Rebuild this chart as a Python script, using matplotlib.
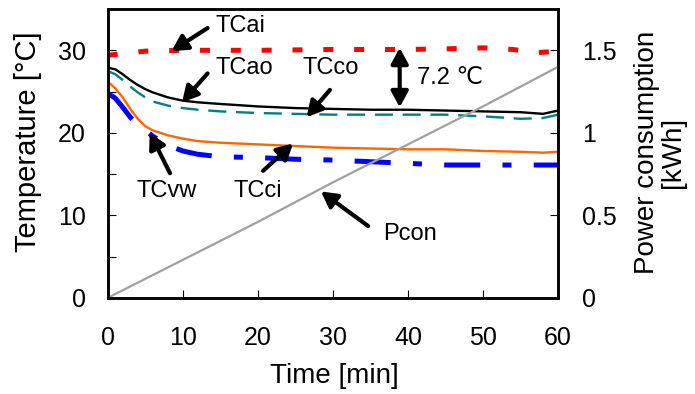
import numpy as np
import matplotlib
matplotlib.use('Agg')
from matplotlib import pyplot as plt
from matplotlib.ticker import MultipleLocator

plt.rcParams['font.family'] = ['Liberation Sans', 'DejaVu Sans']
plt.rcParams['lines.scale_dashes'] = False

# time grid [min] shared by the temperature curves
time_min = [0, 1, 2, 3, 4, 5, 6, 8, 10, 12, 15, 20, 25, 30, 35, 40, 45, 50, 55, 58, 60]
tc_ao = [27.9, 27.7, 27.1, 26.4, 25.8, 25.3, 24.9, 24.3, 23.9, 23.7, 23.5, 23.2,
         23.0, 22.9, 22.8, 22.8, 22.7, 22.6, 22.5, 22.3, 22.7]
tc_co = [27.5, 27.1, 26.4, 25.6, 24.9, 24.3, 23.8, 23.3, 23.0, 22.8, 22.6, 22.4,
         22.3, 22.2, 22.2, 22.2, 22.2, 22.0, 21.7, 21.8, 22.2]
tc_ci = [26.2, 25.4, 24.3, 22.9, 21.7, 20.8, 20.3, 19.7, 19.3, 19.0, 18.8, 18.6,
         18.4, 18.2, 18.1, 18.0, 18.0, 17.8, 17.7, 17.6, 17.7]
tc_vw = [24.8, 24.2, 23.1, 21.9, 21.0, 20.3, 19.6, 18.5, 17.8, 17.4, 17.1, 17.0,
         16.8, 16.7, 16.5, 16.3, 16.1, 16.1, 16.1, 16.1, 16.1]

# air inlet temperature
time_ai = [0, 2, 5, 10, 20, 30, 40, 46, 50, 54, 57, 60]
tc_ai = [29.4, 29.6, 29.9, 30.0, 30.0, 30.1, 30.1, 30.2, 30.3, 30.1, 29.7, 29.9]

# power consumption [kWh]
time_p = [0, 10, 20, 30, 40, 50, 60]
p_con = [0, 0.23, 0.46, 0.70, 0.93, 1.16, 1.40]

fig = plt.figure(figsize=(6.95, 3.94), dpi=100)
ax = fig.add_axes([0.155, 0.244, 0.648, 0.733])
ax2 = ax.twinx()

ax.plot(time_ai, tc_ai, color='#FF0000', lw=3.6, dashes=(7.2, 15))
ax.plot(time_min, tc_ao, color='black', lw=1.7)
ax.plot(time_min, tc_co, color='#008080', lw=1.7, dashes=(13, 7))
ax.plot(time_min, tc_ci, color='#FF6600', lw=1.7)
ax.plot(time_min, tc_vw, color='#0000FF', lw=3.6, dashes=(26, 16, 6.5, 16))
ax2.plot(time_p, p_con, color='#A0A0A0', lw=1.6)

ax.set_xlim(0, 60)
ax.set_ylim(0, 35)
ax2.set_ylim(0, 1.75)

ax.xaxis.set_major_locator(MultipleLocator(10))
ax.yaxis.set_major_locator(MultipleLocator(10))
ax.yaxis.set_minor_locator(MultipleLocator(5))
ax2.set_yticks([0, 0.5, 1, 1.5])
ax2.set_yticklabels(['0', '0.5', '1', '1.5'])

ax.tick_params(axis='x', direction='in', length=6, width=0.8, labelsize=18, pad=20)
ax.tick_params(axis='y', which='both', direction='in', length=6, width=0.8, labelsize=18, pad=16)
ax2.tick_params(axis='y', direction='in', length=6, width=0.8, labelsize=18, pad=17)

for a in (ax, ax2):
    for s in a.spines.values():
        s.set_linewidth(1.8)

ax.set_xlabel('Time [min]', fontsize=20, va='center')
ax.xaxis.set_label_coords(0.504, -0.27)
ax.set_ylabel('Temperature [°C]', fontsize=21, va='center')
ax.yaxis.set_label_coords(-0.178, 0.54)
ax2.set_ylabel('Power consumption\n[kWh]', fontsize=20, va='center',
               rotation=90, multialignment='center', linespacing=1.0)
ax2.yaxis.set_label_coords(1.227, 0.505)

arrow = dict(arrowstyle='-|>,head_length=0.55,head_width=0.3', lw=3,
             color='black', shrinkA=0, shrinkB=0, mutation_scale=17)
darrow = dict(arrowstyle='<|-|>,head_length=0.55,head_width=0.3', lw=3,
              color='black', shrinkA=0, shrinkB=0, mutation_scale=17)

labels = [
    ('TCai', (14.3, 33.0), (13.3, 32.7), (8.5, 29.9)),
    ('TCao', (14.3, 27.8), (13.3, 27.2), (9.9, 23.7)),
    ('TCco', (26.0, 27.8), (29.6, 25.2), (26.5, 21.9)),
    ('TCvw', (3.9, 13.0), (8.3, 15.1), (5.6, 20.0)),
    ('TCci', (16.7, 13.0), (20.7, 15.4), (24.7, 18.7)),
    ('Pcon', (36.7, 7.7), (34.7, 8.7), (28.4, 12.9)),
]
for txt, tpos, start, tip in labels:
    ax.text(tpos[0], tpos[1], txt, fontsize=17, ha='left', va='center')
    ax.annotate('', xy=tip, xytext=start, arrowprops=arrow)

ax.annotate('', xy=(38.9, 30.3), xytext=(38.9, 23.1), arrowprops=darrow)
ax.text(41.2, 26.7, '7.2 ℃', fontsize=17, ha='left', va='center')

fig.savefig('out.png', dpi=100)
plt.close(fig)
